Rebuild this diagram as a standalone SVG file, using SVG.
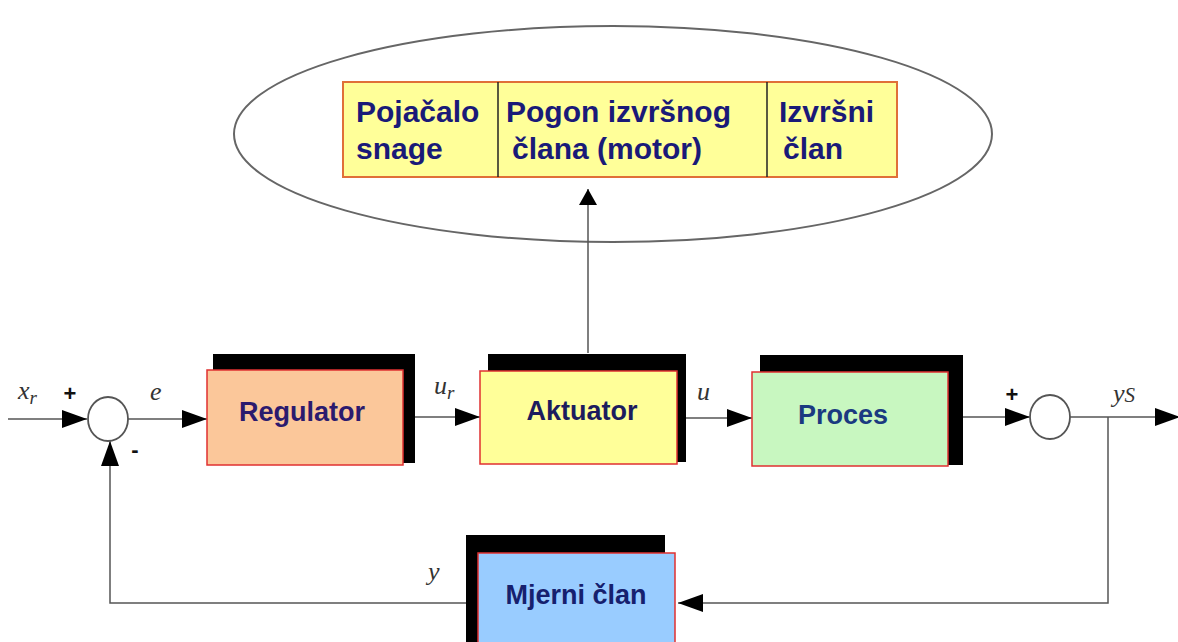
<svg xmlns="http://www.w3.org/2000/svg" width="1178" height="642" viewBox="0 0 1178 642">
  <defs>
    <marker id="arr" markerUnits="userSpaceOnUse" markerWidth="26" markerHeight="18" refX="25" refY="9" orient="auto">
      <path d="M0,0 L25,9 L0,18 z" fill="#000"/>
    </marker>
    <marker id="arrs" markerUnits="userSpaceOnUse" markerWidth="17" markerHeight="18" refX="16" refY="9" orient="auto">
      <path d="M0,0 L16,9 L0,18 z" fill="#000"/>
    </marker>
  </defs>
  <style>
    .bg { fill: #ffffff; }
    .wire { fill: none; stroke: #555; stroke-width: 1.5; }
    .shadow { fill: #000; }
    .box { stroke: #e03030; stroke-width: 1.5; }
    .lbl { font-family: "Liberation Sans", Arial, sans-serif; font-weight: bold; font-size: 27px; text-anchor: middle; }
    .top { font-family: "Liberation Sans", Arial, sans-serif; font-weight: bold; font-size: 30px; fill: #1a1a78; }
    .sig { font-family: "Liberation Serif", "Times New Roman", serif; font-style: italic; font-size: 26px; fill: #333; }
    .sgn { font-family: "Liberation Sans", Arial, sans-serif; font-weight: bold; font-size: 22px; fill: #111; text-anchor: middle; }
    .sum { fill: #fff; stroke: #555; stroke-width: 1.8; }
  </style>
  <rect class="bg" x="0" y="0" width="1178" height="642"/>

  <g id="actuator-detail">
    <ellipse cx="613" cy="134" rx="379" ry="108" fill="none" stroke="#666" stroke-width="2"/>
    <rect x="343" y="82" width="554" height="95" fill="#ffff99" stroke="#e07038" stroke-width="2"/>
    <line x1="498" y1="82" x2="498" y2="177" stroke="#222" stroke-width="1.5"/>
    <line x1="767" y1="82" x2="767" y2="177" stroke="#222" stroke-width="1.5"/>
    <text class="top" x="356" y="122">Pojačalo</text>
    <text class="top" x="356" y="159">snage</text>
    <text class="top" x="506" y="122">Pogon izvršnog</text>
    <text class="top" x="512" y="159">člana (motor)</text>
    <text class="top" x="779" y="122">Izvršni</text>
    <text class="top" x="783" y="159">član</text>
  </g>

  <g id="connectors">
    <line class="wire" x1="8" y1="419" x2="87" y2="419" marker-end="url(#arr)"/>
    <line class="wire" x1="128" y1="419" x2="207" y2="419" marker-end="url(#arr)"/>
    <line class="wire" x1="415" y1="417" x2="480" y2="417" marker-end="url(#arr)"/>
    <line class="wire" x1="686" y1="418" x2="752" y2="418" marker-end="url(#arr)"/>
    <line class="wire" x1="963" y1="417" x2="1030" y2="417" marker-end="url(#arr)"/>
    <line class="wire" x1="1070" y1="417" x2="1180" y2="417" marker-end="url(#arr)"/>
    <polyline class="wire" points="1108,417 1108,603 678,603" marker-end="url(#arr)"/>
    <polyline class="wire" points="466,603 110,603 110,441" marker-end="url(#arr)"/>
    <line class="wire" x1="588" y1="353" x2="588" y2="189" marker-end="url(#arrs)"/>
  </g>

  <g id="sum1">
    <ellipse class="sum" cx="108" cy="419" rx="20" ry="22"/>
    <text class="sgn" x="70" y="401">+</text>
    <text class="sgn" x="135" y="457">-</text>
  </g>

  <g id="sum2">
    <ellipse class="sum" cx="1050" cy="417" rx="20" ry="22"/>
    <text class="sgn" x="1012" y="402">+</text>
  </g>

  <g id="regulator">
    <rect class="shadow" x="213" y="354" width="202" height="109"/>
    <rect class="box" x="207" y="370" width="196" height="95" fill="#fbc79a"/>
    <text class="lbl" x="302" y="421" fill="#2b1a6e">Regulator</text>
  </g>

  <g id="aktuator">
    <rect class="shadow" x="488" y="354" width="198" height="108"/>
    <rect class="box" x="480" y="371" width="197" height="93" fill="#ffff99"/>
    <text class="lbl" x="582" y="420" fill="#1c1c5e">Aktuator</text>
  </g>

  <g id="proces">
    <rect class="shadow" x="760" y="355" width="203" height="110"/>
    <rect class="box" x="752" y="372" width="196" height="94" fill="#c8f7c0"/>
    <text class="lbl" x="843" y="424" fill="#1a3a80">Proces</text>
  </g>

  <g id="mjerni">
    <rect class="shadow" x="466" y="535" width="199" height="110"/>
    <rect class="box" x="478" y="553" width="197" height="95" fill="#99ccff"/>
    <text class="lbl" x="576" y="604" fill="#16206e">Mjerni član</text>
  </g>

  <g id="signals">
    <text class="sig" x="18" y="399">x<tspan font-size="19" dy="5">r</tspan></text>
    <text class="sig" x="150" y="400">e</text>
    <text class="sig" x="434" y="394">u<tspan font-size="19" dy="5">r</tspan></text>
    <text class="sig" x="697" y="400">u</text>
    <text class="sig" x="1113" y="402">y<tspan font-size="21">S</tspan></text>
    <text class="sig" x="428" y="580">y</text>
  </g>
</svg>
